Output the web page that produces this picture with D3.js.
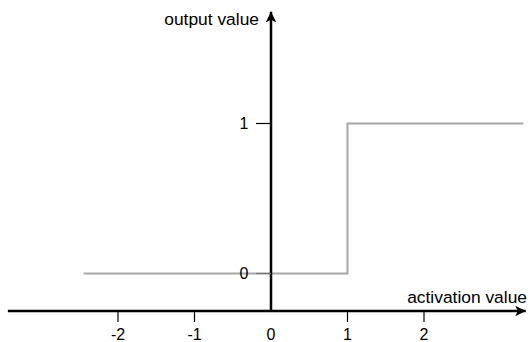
<!DOCTYPE html>
<html>
<head>
<meta charset="utf-8">
<script src="https://cdn.jsdelivr.net/npm/d3@7"></script>
<style>
  html, body { margin: 0; padding: 0; background: #fff; }
  svg { display: block; }
  text { font-family: "Liberation Sans", Arial, Helvetica, sans-serif; fill: #000; }
</style>
</head>
<body>
<svg id="chart" width="530" height="342"></svg>
<script>
// ---- data ----
const stepX = [-2.45, 1, 1, 3.3];
const stepY = [0, 0, 1, 1];
const xTicks = [-2, -1, 0, 1, 2];
const xTickLabels = ["-2", "-1", "0", "1", "2"];
const yTicks = [0, 1];
const yTickLabels = ["0", "1"];
const xAxisTitle = "activation value";
const yAxisTitle = "output value";
const xAxisExtent = [-3.44, 3.33];
const yAxisExtent = [-0.25, 1.745];

// ---- scales ----
const x = d3.scaleLinear().domain([-2, 2]).range([118, 424]);
const y = d3.scaleLinear().domain([0, 1]).range([273.5, 123.5]);

const svg = d3.select("#chart");
const defs = svg.append("defs");
defs.append("marker")
  .attr("id", "arrow")
  .attr("viewBox", "0 0 10 10")
  .attr("refX", 10).attr("refY", 5)
  .attr("markerWidth", 5.6).attr("markerHeight", 4.2)
  .attr("markerUnits", "strokeWidth")
  .attr("orient", "auto")
  .append("path").attr("d", "M0,0 L10,5 L0,10 L2.5,5 Z").attr("fill", "#000");

// step line
const line = d3.line().x((d, i) => x(stepX[i])).y((d, i) => y(stepY[i]));
svg.append("path")
  .datum(stepX)
  .attr("d", line)
  .attr("fill", "none")
  .attr("stroke", "#a8a8a8")
  .attr("stroke-width", 2);

const x0 = x(0), yAx = y(yAxisExtent[0]);

// x axis line
svg.append("line")
  .attr("x1", x(xAxisExtent[0])).attr("x2", x(xAxisExtent[1]))
  .attr("y1", yAx).attr("y2", yAx)
  .attr("stroke", "#000").attr("stroke-width", 2.5)
  .attr("marker-end", "url(#arrow)");

// y axis line
svg.append("line")
  .attr("x1", x0).attr("x2", x0)
  .attr("y1", yAx).attr("y2", y(yAxisExtent[1]))
  .attr("stroke", "#000").attr("stroke-width", 2.5)
  .attr("marker-end", "url(#arrow)");

// x ticks
const xt = svg.append("g").selectAll("g").data(xTicks).join("g")
  .attr("transform", d => `translate(${x(d)},${yAx})`);
xt.filter(d => d !== 0).append("line")
  .attr("y1", 1).attr("y2", 11).attr("stroke", "#000").attr("stroke-width", 1.2);
xt.append("text")
  .attr("y", 29).attr("text-anchor", "middle")
  .style("font-size", "16px")
  .text((d, i) => xTickLabels[i]);

// y ticks
const yt = svg.append("g").selectAll("g").data(yTicks).join("g")
  .attr("transform", d => `translate(${x0},${y(d)})`);
yt.append("line")
  .attr("x1", -15).attr("x2", 0).attr("stroke", d => d === 0 ? "#777" : "#000").attr("stroke-width", 1.2);
yt.append("text")
  .attr("x", -27).attr("dy", "0.36em").attr("text-anchor", "middle")
  .style("font-size", "16px")
  .text((d, i) => yTickLabels[i]);

// titles
svg.append("text")
  .attr("x", 527).attr("y", 303).attr("text-anchor", "end")
  .style("font-size", "17.4px")
  .text(xAxisTitle);
svg.append("text")
  .attr("x", 259).attr("y", 25).attr("text-anchor", "end")
  .style("font-size", "17.4px")
  .text(yAxisTitle);
</script>
</body>
</html>
